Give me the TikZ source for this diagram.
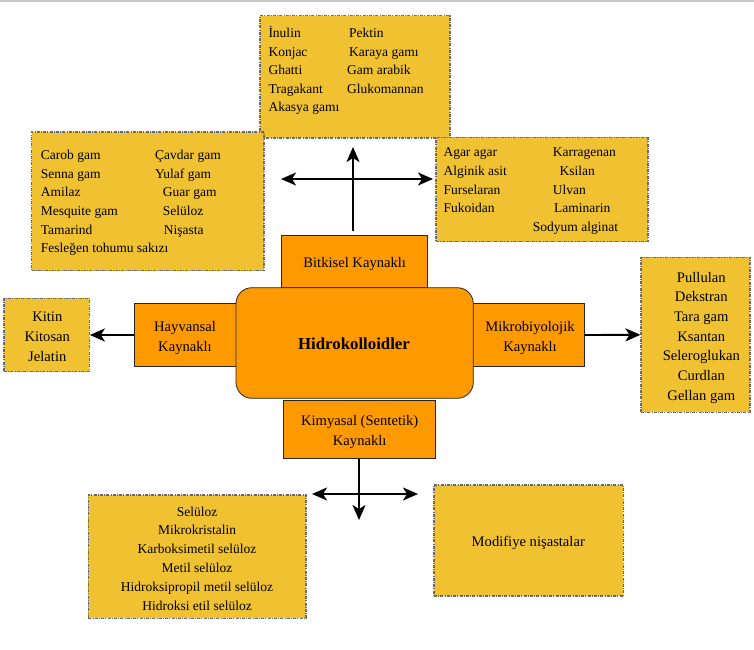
\documentclass[tikz,border=0pt]{standalone}
\usepackage{fontspec}
\setmainfont{Liberation Serif}
\usetikzlibrary{arrows.meta}
\definecolor{ybg}{RGB}{240,193,48}
\definecolor{obg}{RGB}{255,153,0}
\definecolor{ybd}{RGB}{105,105,105}
\tikzset{
  ybox/.style={draw=ybd, line width=1.1pt, fill=ybg, dash pattern=on 3pt off 1.2pt on 1pt off 1.2pt, inner sep=0pt},
  obox/.style={draw=black!85, line width=0.8pt, fill=obg, inner sep=0pt},
  sitm/.style={font=\fontsize{13.5}{16}\selectfont, inner sep=0pt, anchor=base west},
  citm/.style={font=\fontsize{14.6}{17}\selectfont, inner sep=0pt, anchor=base},
  ccitm/.style={font=\fontsize{13.5}{16}\selectfont, inner sep=0pt, anchor=base},
  tipA/.tip={Stealth[length=15pt,width=13pt,inset=4pt]},
  arr/.style={line width=1.9pt, -tipA},
  arrb/.style={line width=1.9pt, tipA-tipA}
}
\begin{document}
\begin{tikzpicture}[x=1pt,y=-1pt]
\useasboundingbox[fill=white] (0,0) rectangle (754,649);
\draw[black!22, line width=2pt] (0,1) -- (754,1);
% yellow boxes
\node[ybox, minimum width=190pt, minimum height=122.3pt] (topbox) at (355,76.85) {};
\node[ybox, minimum width=232.3pt, minimum height=138.7pt] (leftbox) at (147.85,201.35) {};
\node[ybox, minimum width=212pt, minimum height=104.4pt] (rtbox) at (542,189.5) {};
\node[ybox, minimum width=85.3pt, minimum height=73.4pt] (anibox) at (46.65,335) {};
\node[ybox, minimum width=109pt, minimum height=155pt] (micbox) at (695.5,334.8) {};
\node[ybox, minimum width=217.7pt, minimum height=123.3pt] (celbox) at (197.15,556.65) {};
\node[ybox, minimum width=189.3pt, minimum height=111pt] (modbox) at (528.65,540.5) {};
% top box texts
\foreach \t/\x/\y [count=\i] in {İnulin/268.3/37.5, Konjac/268.3/56, Ghatti/268.3/74.5, Tragakant/268.3/93, Akasya gamı/268.3/111.5, Pektin/349/37.5, Karaya gamı/349/56, Gam arabik/347/74.5, Glukomannan/347/93}
  \node[sitm] (tp\i) at (\x,\y) {\t};
% left box texts
\foreach \t/\x/\y [count=\i] in {Carob gam/40.7/159.7, Senna gam/40.7/178.3, Amilaz/40.7/196.9, Mesquite gam/40.7/215.5, Tamarind/40.7/234.1, Fesleğen tohumu sakızı/40.7/252.7, Çavdar gam/155/159.7, Yulaf gam/155/178.3, Guar gam/162.7/196.9, Selüloz/162.7/215.5, Nişasta/163.7/234.1}
  \node[sitm] (lf\i) at (\x,\y) {\t};
% right-top box texts
\foreach \t/\x/\y [count=\i] in {Agar agar/443.3/156.7, Alginik asit/443.3/175.7, Furselaran/443.3/194.3, Fukoidan/443.3/212.7, Karragenan/552.7/156.7, Ksilan/559.3/175.7, Ulvan/552.7/194.3, Laminarin/554/212.7, Sodyum alginat/532.7/231.7}
  \node[sitm] (rt\i) at (\x,\y) {\t};
% animal box
\foreach \t/\y [count=\i] in {Kitin/321.7, Kitosan/341.5, Jelatin/361}
  \node[citm] (an\i) at (47.3,\y) {\t};
% microbial box
\foreach \t/\y [count=\i] in {Pullulan/282.3, Dekstran/301.9, Tara gam/321.5, Ksantan/341.1, Seleroglukan/360.7, Curdlan/380.3, Gellan gam/400}
  \node[citm] (mc\i) at (701.3,\y) {\t};
% cellulose box
\foreach \t/\y [count=\i] in {Selüloz/516, Mikrokristalin/534.9, Karboksimetil selüloz/553.8, Metil selüloz/572.7, Hidroksipropil metil selüloz/591.6, Hidroksi etil selüloz/610.5}
  \node[ccitm] (cl\i) at (197,\y) {\t};
\node[citm] (mod) at (528.3,546) {Modifiye nişastalar};
% orange boxes
\node[obox, minimum width=146.7pt, minimum height=52pt] (bitki) at (354.35,261.7) {};
\node[obox, minimum width=106pt, minimum height=63.4pt] (hayv) at (187,335) {};
\node[obox, minimum width=115pt, minimum height=63.4pt] (mikro) at (526.5,335) {};
\node[obox, minimum width=152.4pt, minimum height=58.3pt] (kimya) at (359.5,429.15) {};
\node[obox, rounded corners=16pt, minimum width=237.3pt, minimum height=110.6pt] (hidro) at (354.65,343) {};
\node[citm] (tbitki) at (354.7,267.7) {Bitkisel Kaynaklı};
\node[citm] (thayv1) at (185,331) {Hayvansal};
\node[citm] (thayv2) at (185,351) {Kaynaklı};
\node[citm] (tmik1) at (530,331) {Mikrobiyolojik};
\node[citm] (tmik2) at (530,351) {Kaynaklı};
\node[citm] (tkim1) at (359.7,425) {Kimyasal (Sentetik)};
\node[citm] (tkim2) at (359.7,445) {Kaynaklı};
\node[font=\fontsize{16.8}{19}\selectfont\bfseries, inner sep=0pt, anchor=base] (thidro) at (354,349) {Hidrokolloidler};
% arrows
\coordinate (vtop) at (353,147);
\coordinate (hl) at (281,179);
\coordinate (hr) at (433,179);
\draw[arr, shorten <=4pt] (bitki.north -| vtop) -- (vtop);
\draw[arrb] (hl) -- (hr);
\coordinate (vbot) at (359,520);
\coordinate (bl) at (312,494);
\coordinate (br) at (418,494);
\draw[arr] (kimya.south -| vbot) -- (vbot);
\draw[arrb] (bl) -- (br);
\draw[arr] (hayv.west) -- (anibox.east);
\draw[arr] (mikro.east) -- (micbox.west);
\end{tikzpicture}
\end{document}
